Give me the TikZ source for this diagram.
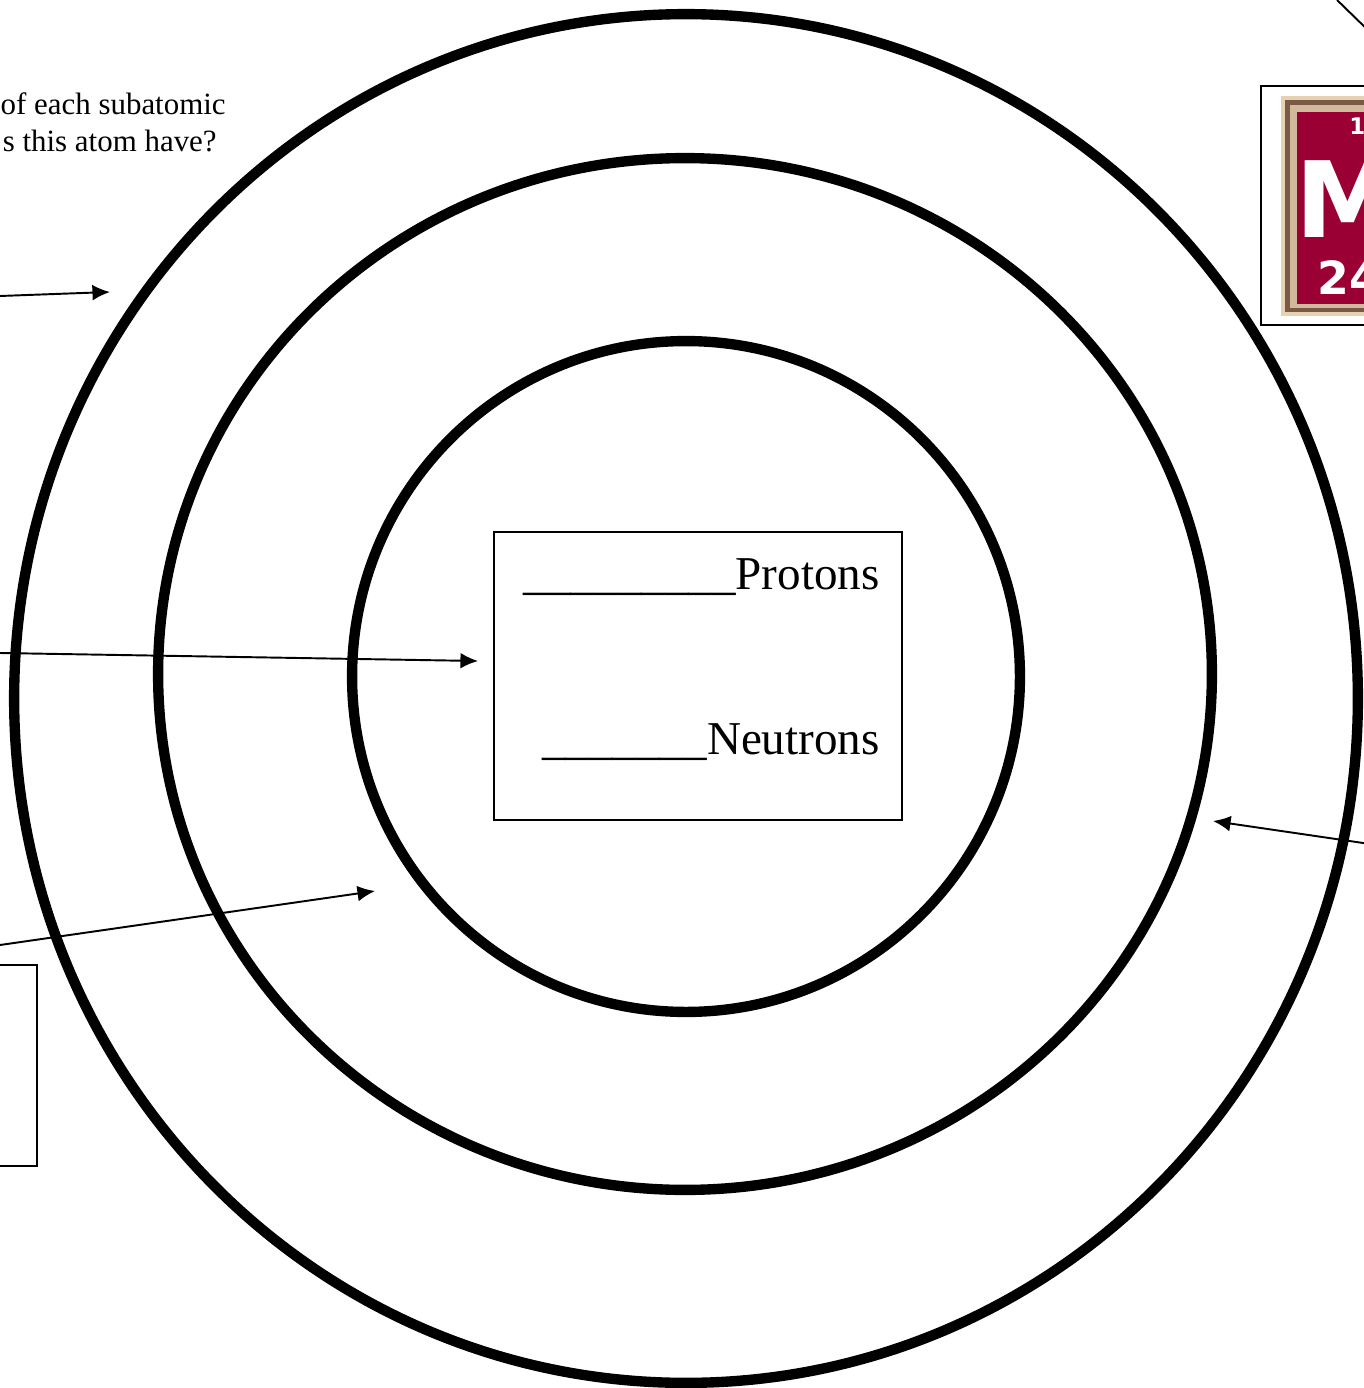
\documentclass[tikz,border=0pt]{standalone}
\usepackage{fontspec}
\setmainfont{Liberation Serif}
\newfontfamily\tilefont{DejaVu Sans}
\usetikzlibrary{arrows.meta}
\definecolor{tiletan}{HTML}{E6D2B0}
\definecolor{tilebrown}{HTML}{7A5A46}
\definecolor{tilered}{HTML}{9A0034}
\tikzset{
  shell/.style={line width=5.9pt},
  pointer/.style={line width=1.1pt,-{Latex[length=10pt,width=9pt]}},
  blank/.style={draw,line width=1pt},
  ask/.style={anchor=base east,inner sep=0pt,font=\fontsize{17.6}{21}\selectfont},
  fill in/.style={anchor=base east,inner sep=0pt,font=\fontsize{26.8}{32}\selectfont}
}
\begin{document}
\begin{tikzpicture}[x=0.02cm,y=-0.02cm]
\useasboundingbox (0,0) rectangle (1364,1388);
\clip (0,0) rectangle (1364,1388);
% the three shells
\draw [shell] (686,698.5) ellipse [x radius=13.44cm, y radius=13.69cm];
\draw [shell] (685,674) ellipse [x radius=10.54cm, y radius=10.32cm];
\draw [shell] (686,676.5) ellipse [x radius=6.68cm, y radius=6.71cm];
% question
\node [ask] (q1) at (226,115) {of each subatomic};
\node [ask] (q2) at (217,152) {s this atom have?};
% nucleus box
\node [blank,minimum width=8.16cm,minimum height=5.76cm] (nucleus) at (698,676) {};
\node [fill in] (protons) at (880,589) {\_\_\_\_\_\_\_\_\_Protons};
\node [fill in] (neutrons) at (880,754) {\_\_\_\_\_\_\_Neutrons};
% answer box, lower left
\draw [line width=1pt] (-20,965) rectangle (37,1166);
% element tile
\draw [line width=1pt] (1261,86) rectangle (1380,325);
\fill [tiletan] (1281,96) rectangle (1380,316);
\fill [tilebrown] (1285,100) rectangle (1380,312);
\fill [tiletan!80!tilebrown] (1290,105) rectangle (1380,308);
\fill [tilered] (1297,112) rectangle (1380,304);
\node [anchor=base west,inner sep=0pt,text=white,font=\tilefont\bfseries\fontsize{13}{13}\selectfont] (tnum) at (1349,135) {1};
\node [anchor=base west,inner sep=0pt,text=white,font=\tilefont\bfseries\fontsize{60}{60}\selectfont] (tsym) at (1295,238) {M};
\node [anchor=base west,inner sep=0pt,text=white,font=\tilefont\bfseries\fontsize{26}{26}\selectfont] (tmass) at (1317,295) {24};
% pointers
\coordinate (a1) at (0,296);
\coordinate (b1) at (110,292);
\coordinate (a2) at (0,653);
\coordinate (b2) at (478,661);
\coordinate (a3) at (0,945);
\coordinate (b3) at (375,891);
\coordinate (a4) at (1370,844);
\coordinate (b4) at (1213,821);
\coordinate (a5) at (1337,0);
\coordinate (b5) at (1375,37);
\draw [pointer] (a1) -- (b1);
\draw [pointer] (a2) -- (b2);
\draw [pointer] (a3) -- (b3);
\draw [pointer] (a4) -- (b4);
\draw [line width=1.1pt] (a5) -- (b5);
\end{tikzpicture}
\end{document}
